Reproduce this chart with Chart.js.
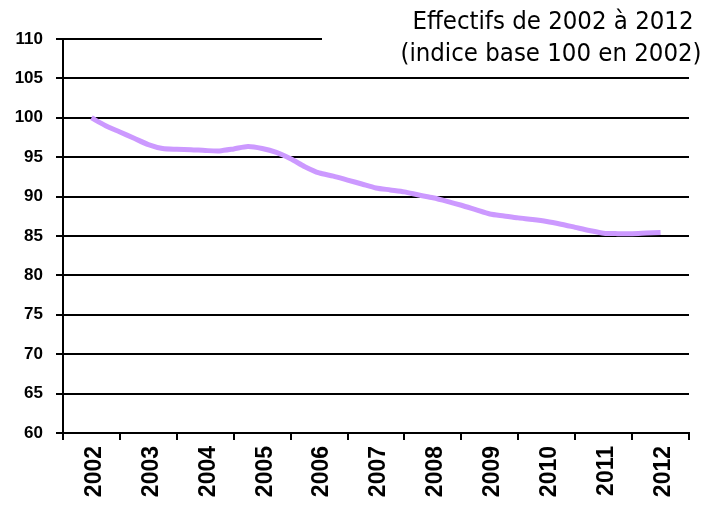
<!DOCTYPE html>
<html lang="fr">
<head>
<meta charset="utf-8">
<title>Effectifs de 2002 à 2012</title>
<script src="https://cdn.jsdelivr.net/npm/chart.js@4/dist/chart.umd.min.js"></script>
<style>
  html, body { margin: 0; padding: 0; background: #fff; }
  #wrap { width: 706px; height: 505px; position: relative; }
</style>
</head>
<body>
<div id="wrap"><canvas id="c" width="706" height="505"></canvas></div>
<script>
// Category labels on the time axis
const years = ['2002', '2003', '2004', '2005', '2006', '2007', '2008', '2009', '2010', '2011', '2012'];

// Quarterly observations (fractional year) and index values (base 100 in 2002)
const periods = [
  2002.00, 2002.25, 2002.50, 2002.75,
  2003.00, 2003.25, 2003.50, 2003.75,
  2004.00, 2004.25, 2004.50, 2004.75,
  2005.00, 2005.25, 2005.50, 2005.75,
  2006.00, 2006.25, 2006.50, 2006.75,
  2007.00, 2007.25, 2007.50, 2007.75,
  2008.00, 2008.25, 2008.50, 2008.75,
  2009.00, 2009.25, 2009.50, 2009.75,
  2010.00, 2010.25, 2010.50, 2010.75,
  2011.00, 2011.25, 2011.50, 2011.75,
  2012.00
];
const indice = [
  100.0, 99.0, 98.2, 97.4,
  96.6, 96.1, 96.0, 95.95,
  95.85, 95.8, 96.05, 96.35,
  96.1, 95.6, 94.8, 93.8,
  93.0, 92.6, 92.1, 91.6,
  91.1, 90.85, 90.6, 90.2,
  89.85, 89.4, 88.9, 88.35,
  87.8, 87.55, 87.3, 87.1,
  86.85, 86.5, 86.1, 85.7,
  85.35, 85.3, 85.3, 85.38,
  85.45
];

// Value axis ticks
const yTicks = { min: 60, max: 110, step: 5 };

// Title lines
const titleLines = ['Effectifs de 2002 à 2012', '(indice base 100 en 2002)'];

const points = periods.map((p, i) => ({ x: p, y: indice[i] }));

// Title drawn on a white panel in the upper right corner of the plot
const titleBox = {
  id: 'titleBox',
  afterDraw(chart) {
    const { ctx, chartArea } = chart;
    const w = chart.width;
    ctx.save();
    ctx.fillStyle = '#ffffff';
    ctx.fillRect(chartArea.left + 259, 4, w - chartArea.left - 259, 66);
    ctx.fillStyle = '#000000';
    ctx.font = '25.5px "DejaVu Sans Condensed", "DejaVu Sans", sans-serif';
    ctx.textAlign = 'center';
    ctx.textBaseline = 'alphabetic';
    ctx.fillText(titleLines[0], 553, 29);
    ctx.fillText(titleLines[1], 551, 61);
    ctx.restore();
  }
};

new Chart(document.getElementById('c'), {
  type: 'line',
  data: {
    labels: years,
    datasets: [{
      label: 'Effectifs',
      data: points,
      xAxisID: 'xq',
      yAxisID: 'y',
      borderColor: '#CC99FF',
      backgroundColor: '#CC99FF',
      borderWidth: 5,
      pointRadius: 0,
      tension: 0.25,
      fill: false
    }]
  },
  options: {
    responsive: false,
    animation: false,
    devicePixelRatio: 1,
    layout: { padding: { top: 39, right: 17, left: 0, bottom: 0 } },
    plugins: {
      legend: { display: false },
      title: { display: false },
      tooltip: { enabled: false }
    },
    scales: {
      x: {
        type: 'category',
        position: 'bottom',
        offset: true,
        grid: {
          offset: true,
          drawOnChartArea: false,
          drawTicks: true,
          tickLength: 7,
          color: '#000',
          lineWidth: 2
        },
        border: { display: true, color: '#000', width: 2 },
        ticks: {
          color: '#000',
          minRotation: 90,
          maxRotation: 90,
          padding: 6,
          labelOffset: 3,
          font: { family: '"Liberation Sans", Arial, sans-serif', size: 23, weight: 'bold' }
        },
        afterFit(scale) { scale.height = 72; }
      },
      xq: {
        type: 'linear',
        display: false,
        position: 'bottom',
        min: 2001.5,
        max: 2012.5
      },
      y: {
        type: 'linear',
        z: 1,
        min: yTicks.min,
        max: yTicks.max,
        grid: {
          color: '#000',
          lineWidth: 2,
          drawTicks: true,
          tickLength: 7
        },
        border: { display: true, color: '#000', width: 2 },
        ticks: {
          stepSize: yTicks.step,
          color: '#000',
          padding: 13,
          font: { family: '"Liberation Sans", Arial, sans-serif', size: 17, weight: 'bold' }
        },
        afterFit(scale) { scale.width = 63; }
      }
    }
  },
  plugins: [titleBox]
});
</script>
</body>
</html>
